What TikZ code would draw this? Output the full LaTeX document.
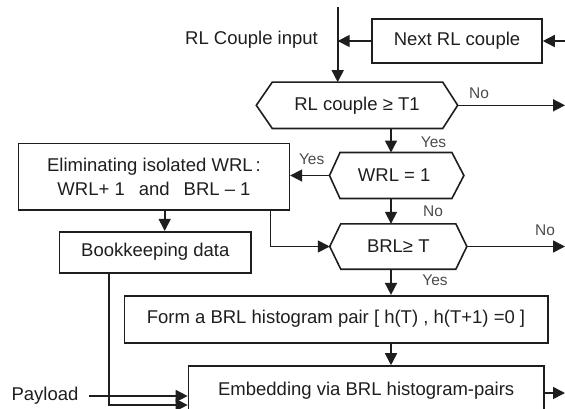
\documentclass[tikz,border=0pt]{standalone}
\usepackage{fontspec}
\setmainfont{Liberation Sans}
\usetikzlibrary{arrows.meta,calc}
\definecolor{ink}{HTML}{1E1E1E}
\newcommand\drawhex[3]{\draw[ln] (#1.west) -- ([xshift=#2]#1.north west) -- ([xshift=-#3]#1.north east) -- (#1.east) -- ([xshift=-#3]#1.south east) -- ([xshift=#2]#1.south west) -- cycle;}
\begin{document}
\begin{tikzpicture}[x=1pt,y=-1pt,
  ln/.style={draw=ink,line width=1.6pt},
  arr/.style={ln,-{Triangle[length=12pt,width=12pt]}},
  box/.style={draw=ink,line width=1.6pt,inner sep=0pt,align=center,text=ink,font=\fontsize{18.5}{24.3}\selectfont},
  hexn/.style={inner sep=0pt,align=center,text=ink,font=\fontsize{18.5}{22}\selectfont},
  lbl/.style={inner sep=0pt,text=ink,font=\fontsize{18.5}{22}\selectfont},
  small/.style={inner sep=0pt,text=ink!80,font=\fontsize{15.5}{18}\selectfont}]
\useasboundingbox (0,0) rectangle (565,408);
% coordinates
\coordinate (top) at (337.7,7);
\coordinate (c1) at (391,0);
\coordinate (rtop) at (565,41);
\coordinate (rno1) at (565,105.3);
\coordinate (rno2) at (565,246.5);
\coordinate (rout) at (565,391);
% nodes
\node[lbl] (inp) at (251.5,40) {RL Couple input};
\node[box,minimum width=170pt,minimum height=44pt] (next) at (457,41) {Next RL couple};
\node[hexn,minimum width=201pt,minimum height=46pt] (h1) at (357,105.3) {RL couple ≥ T1};
\drawhex{h1}{16pt}{15pt}
\node[hexn,minimum width=134pt,minimum height=45.6pt] (w) at (396.7,175.5) {\hspace*{-5pt}WRL = 1};
\drawhex{w}{10.5pt}{12pt}
\node[box,minimum width=270.7pt,minimum height=66.7pt] (elim) at (154,176.7) {Eliminating isolated WRL\,:\\WRL+ 1\hspace{14pt}and\hspace{14pt}BRL -- 1};
\node[box,minimum width=191.7pt,minimum height=41pt] (bk) at (155.3,252.2) {Bookkeeping data};
\node[hexn,minimum width=136.7pt,minimum height=45pt] (b) at (398.3,246.5) {BRL≥ T};
\drawhex{b}{11pt}{11pt}
\node[box,minimum width=423.4pt,minimum height=47pt] (form) at (336,319.2) {Form a BRL histogram pair [ h(T) , h(T+1) =0 ]};
\node[box,minimum width=355.5pt,minimum height=50pt] (emb) at (366.2,391) {Embedding via BRL histogram-pairs};
\node[lbl,inner xsep=10pt] (pay) at (45,396) {Payload};
% labels
\node[small] (no1) at (479,93) {No};
\node[small] (yes1) at (433.5,142.7) {Yes};
\node[small] (yes2) at (311.7,159) {Yes};
\node[small] (no2) at (433,211) {No};
\node[small] (no3) at (545,230) {No};
\node[small] (yes3) at (435,280.7) {Yes};
% connectors
\draw[arr] (top) -- (top |- h1.north);
\draw[arr] (next.west) -- (next.west -| top);
\draw[arr] (rtop) -- (next.east);
\draw[arr] (h1.east) -- (rno1);
\draw[arr] (h1.south -| c1) -- (w.north -| c1);
\draw[arr] (w.west) -- (w.west -| elim.east);
\draw[arr] (w.south -| c1) -- (b.north -| c1);
\draw[arr] ([xshift=-19.5pt]elim.south east) |- (b.west);
\draw[arr] ([xshift=10.7pt]elim.south) -- ([xshift=10.7pt]elim.south |- bk.north);
\draw[arr] (b.east) -- (rno2);
\draw[arr] (b.south -| c1) -- (form.north -| c1);
\draw[arr] (form.south -| c1) -- (emb.north -| c1);
\draw[arr] ([xshift=-46.5pt]bk.south) |- ([yshift=-14pt]emb.west);
\draw[arr] (pay.east) -- (pay.east -| emb.west);
\draw[arr] ([yshift=-2pt]emb.east) -- ([yshift=-2pt]rout);
\end{tikzpicture}
\end{document}
